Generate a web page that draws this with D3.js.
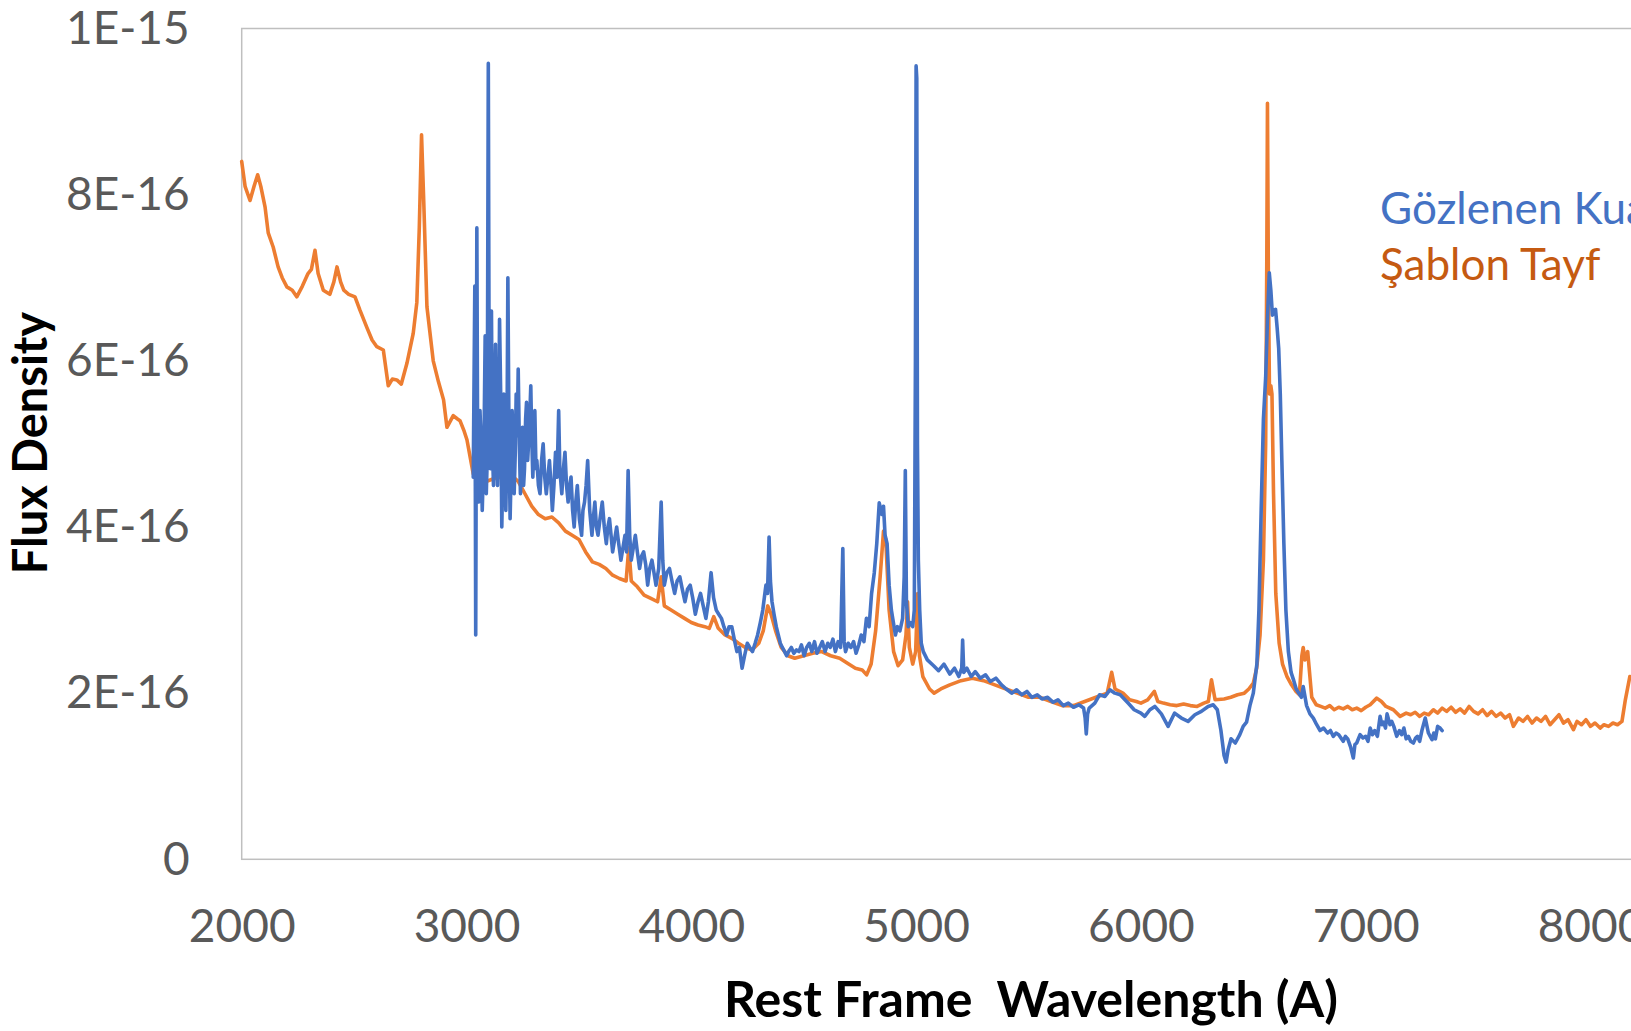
<!DOCTYPE html>
<html>
<head>
<meta charset="utf-8">
<script src="https://cdn.jsdelivr.net/npm/d3@7"></script>
<style>
  html, body { margin: 0; padding: 0; background: #fff; overflow: hidden; }
  svg { display: block; }
  text { font-family: Lato, "Open Sans", sans-serif; }
</style>
</head>
<body>
<svg id="chart" width="1631" height="1031"></svg>
<script>
// ---------- DATA (flux in units of 1E-16) ----------
const templateWave = [
2000,2015,2037,2055,2071,2085,2104,2118,2140,2162,
2180,2201,2225,2245,2270,2295,2310,2326,2340,2363,
2392,2410,2424,2440,2454,2476,2504,2526,2557,2580,
2601,2630,2652,2670,2690,2710,2735,2763,2779,2790,
2800,2810,2824,2852,2875,2898,2913,2941,2960,2971,
2990,3002,3030,3060,3090,3120,3150,3180,3200,3230,
3260,3290,3320,3350,3380,3410,3440,3470,3500,3530,
3560,3590,3620,3650,3680,3710,3722,3733,3760,3790,
3820,3850,3866,3880,3910,3940,3970,4000,4030,4060,
4080,4100,4120,4150,4180,4210,4240,4270,4300,4320,
4340,4355,4375,4400,4430,4460,4500,4540,4580,4620,
4660,4700,4730,4760,4780,4800,4820,4840,4855,4865,
4880,4900,4920,4940,4955,4962,4970,4985,4998,5007,
5015,5030,5060,5080,5110,5150,5200,5250,5300,5350,
5400,5450,5500,5550,5600,5650,5700,5750,5800,5850,
5870,5885,5920,5950,5980,6000,6030,6060,6075,6100,
6130,6160,6190,6220,6250,6280,6300,6314,6330,6370,
6400,6430,6460,6480,6500,6515,6530,6545,6555,6560,
6563,6567,6572,6578,6583,6590,6600,6615,6630,6650,
6670,6690,6705,6716,6722,6730,6742,6760,6780,6800,
6820,6840,6860,6880,6900,6920,6940,6960,6980,7000,
7020,7049,7070,7090,7123,7153,7180,7200,7220,7240,
7260,7280,7301,7320,7340,7360,7380,7400,7420,7440,
7460,7480,7500,7520,7540,7560,7580,7600,7620,7640,
7657,7680,7700,7720,7740,7760,7780,7800,7820,7840,
7860,7880,7900,7924,7940,7960,7980,8000,8020,8043,
8060,8080,8100,8120,8140,8155,8175];
const templateFlux = [
8.40,8.10,7.93,8.10,8.24,8.10,7.85,7.54,7.37,7.13,
7.00,6.89,6.85,6.77,6.90,7.05,7.10,7.33,7.05,6.85,
6.80,6.95,7.13,6.95,6.85,6.80,6.77,6.61,6.40,6.25,
6.17,6.13,5.70,5.78,5.77,5.72,5.97,6.33,6.70,7.60,
8.72,7.90,6.65,6.00,5.75,5.53,5.20,5.34,5.30,5.28,
5.15,5.05,4.64,4.52,4.55,4.58,4.60,4.70,4.62,4.55,
4.40,4.25,4.15,4.10,4.12,4.05,3.95,3.90,3.85,3.70,
3.58,3.55,3.50,3.42,3.38,3.35,3.75,3.35,3.28,3.18,
3.14,3.10,3.40,3.05,3.00,2.95,2.90,2.85,2.82,2.80,
2.78,2.92,2.78,2.70,2.66,2.60,2.55,2.52,2.60,2.75,
3.05,2.95,2.75,2.55,2.45,2.42,2.45,2.48,2.50,2.45,
2.42,2.35,2.30,2.28,2.22,2.35,2.75,3.40,3.95,3.85,
3.00,2.50,2.33,2.40,2.70,3.10,2.55,2.35,2.50,3.20,
2.45,2.20,2.05,2.00,2.05,2.10,2.15,2.18,2.15,2.10,
2.05,2.00,1.95,1.95,1.90,1.85,1.85,1.90,1.95,2.00,
2.25,2.05,2.00,1.92,1.90,1.88,1.92,2.02,1.90,1.88,
1.86,1.85,1.87,1.85,1.84,1.88,1.90,2.16,1.92,1.93,
1.95,1.98,2.00,2.05,2.12,2.30,2.70,3.60,5.00,7.20,
9.10,7.00,5.60,5.70,5.60,4.40,3.20,2.60,2.35,2.20,
2.10,2.02,1.98,2.45,2.55,2.40,2.50,1.95,1.86,1.84,
1.82,1.85,1.80,1.83,1.81,1.84,1.80,1.82,1.79,1.83,
1.86,1.94,1.90,1.84,1.80,1.72,1.76,1.74,1.77,1.72,
1.76,1.74,1.80,1.76,1.82,1.78,1.83,1.77,1.81,1.76,
1.84,1.78,1.75,1.80,1.73,1.78,1.72,1.76,1.70,1.74,
1.60,1.70,1.66,1.72,1.64,1.70,1.66,1.72,1.62,1.68,
1.74,1.64,1.68,1.56,1.66,1.62,1.68,1.60,1.64,1.58,
1.62,1.60,1.64,1.62,1.66,1.92,2.20];

const observedWave = [
3030,3037,3041,3046,3050,3055,3060,3065,3070,3074,
3079,3083,3088,3092,3097,3101,3106,3111,3115,3120,
3125,3129,3134,3138,3143,3147,3152,3157,3161,3166,
3171,3175,3180,3184,3189,3194,3198,3203,3208,3212,
3217,3221,3226,3230,3235,3240,3244,3249,3254,3258,
3263,3267,3272,3276,3281,3286,3290,3295,3300,3304,
3309,3313,3320,3327,3334,3341,3348,3355,3362,3369,
3376,3382,3389,3396,3403,3410,3415,3424,3431,3438,
3445,3452,3459,3465,3472,3479,3486,3493,3502,3512,
3518,3525,3532,3539,3548,3558,3564,3571,3578,3585,
3594,3604,3613,3622,3629,3636,3643,3650,3659,3668,
3677,3687,3696,3705,3712,3719,3726,3733,3742,3751,
3760,3770,3779,3788,3797,3806,3815,3825,3834,3843,
3855,3866,3873,3880,3891,3903,3914,3926,3937,3949,
3960,3972,3983,3995,4006,4018,4030,4041,4053,4065,
4076,4088,4099,4111,4122,4134,4145,4157,4168,4180,
4191,4203,4214,4226,4237,4249,4260,4272,4284,4295,
4307,4318,4325,4332,4339,4346,4352,4359,4368,4378,
4387,4396,4405,4415,4424,4433,4445,4456,4468,4479,
4490,4502,4513,4525,4536,4548,4559,4571,4583,4595,
4607,4618,4630,4641,4653,4664,4674,4680,4686,4698,
4710,4722,4733,4745,4756,4768,4779,4791,4802,4814,
4825,4836,4848,4855,4862,4871,4880,4890,4899,4908,
4917,4928,4940,4947,4952,4957,4965,4975,4985,4992,
4997,5000,5003,5006,5010,5016,5023,5032,5050,5078,
5100,5124,5150,5171,5190,5203,5207,5212,5226,5245,
5263,5285,5309,5330,5355,5380,5401,5425,5447,5470,
5493,5515,5539,5560,5585,5610,5631,5655,5677,5700,
5724,5745,5752,5757,5763,5770,5795,5816,5840,5862,
5884,5908,5943,5970,6000,6017,6040,6062,6091,6121,
6150,6180,6210,6240,6269,6299,6322,6340,6356,6370,
6379,6388,6401,6420,6440,6455,6470,6485,6500,6516,
6525,6535,6545,6555,6563,6571,6578,6585,6592,6599,
6606,6613,6620,6627,6636,6645,6656,6668,6680,6691,
6702,6714,6722,6737,6752,6767,6782,6797,6813,6830,
6843,6856,6868,6880,6890,6900,6910,6920,6933,6945,
6952,6960,6975,6988,7000,7010,7020,7030,7040,7052,
7064,7072,7080,7088,7095,7108,7116,7125,7138,7150,
7160,7170,7180,7190,7200,7212,7222,7230,7240,7250,
7265,7279,7287,7295,7303,7310,7320,7331,7340];
const observedFlux = [
4.60,6.90,2.70,7.60,4.60,4.30,5.40,5.00,4.20,4.60,
5.30,6.30,4.40,4.80,9.58,5.50,4.70,6.60,5.00,4.50,
5.60,6.20,4.80,4.50,5.10,6.50,5.60,4.00,4.60,5.60,
4.90,4.20,5.00,7.00,5.10,4.10,4.60,5.40,5.00,4.40,
4.90,5.60,5.10,5.90,5.00,4.40,4.70,5.20,4.50,4.70,
5.30,5.50,4.80,5.00,5.30,5.70,5.10,4.60,5.00,5.40,
4.70,4.80,4.50,4.40,4.80,5.00,4.60,4.40,4.60,4.80,
4.50,4.20,4.50,4.90,4.60,5.40,4.70,4.40,4.70,4.90,
4.50,4.30,4.50,4.60,4.20,4.00,4.30,4.50,4.10,3.90,
4.20,4.30,4.50,4.80,4.20,3.90,4.10,4.30,4.00,3.90,
4.10,4.30,4.00,3.80,4.00,4.10,3.90,3.70,3.85,4.00,
3.80,3.60,3.75,3.90,3.70,4.68,3.90,3.60,3.75,3.90,
3.70,3.50,3.65,3.70,3.55,3.30,3.50,3.60,3.45,3.30,
3.50,4.30,3.60,3.30,3.45,3.50,3.35,3.20,3.35,3.40,
3.25,3.10,3.25,3.30,3.15,2.95,3.10,3.20,3.05,2.90,
3.10,3.45,3.15,3.00,2.95,2.90,2.80,2.70,2.80,2.80,
2.65,2.50,2.55,2.30,2.45,2.60,2.55,2.50,2.60,2.70,
2.85,3.00,3.15,3.30,3.20,3.88,3.35,3.10,2.95,2.80,
2.70,2.60,2.55,2.50,2.45,2.50,2.55,2.48,2.52,2.50,
2.58,2.45,2.55,2.60,2.50,2.62,2.48,2.55,2.62,2.50,
2.60,2.55,2.65,2.50,2.62,2.55,3.74,2.62,2.50,2.60,
2.55,2.62,2.48,2.58,2.70,2.62,2.90,2.80,3.20,3.45,
3.80,4.29,4.15,4.25,3.90,3.80,3.30,3.00,2.85,2.70,
2.80,2.75,2.90,3.40,4.68,3.10,2.80,2.85,2.80,3.00,
6.00,9.55,9.40,5.00,3.60,3.00,2.60,2.50,2.40,2.33,
2.27,2.35,2.23,2.30,2.20,2.30,2.64,2.25,2.30,2.20,
2.26,2.18,2.22,2.14,2.18,2.10,2.05,2.00,2.04,1.98,
2.02,1.95,1.98,1.93,1.95,1.89,1.92,1.85,1.88,1.83,
1.86,1.82,1.70,1.51,1.75,1.82,1.88,1.98,1.96,2.04,
2.00,1.98,1.88,1.80,1.76,1.72,1.80,1.84,1.75,1.60,
1.76,1.70,1.66,1.74,1.78,1.84,1.86,1.80,1.55,1.25,
1.17,1.32,1.45,1.40,1.50,1.60,1.65,1.85,2.00,2.35,
3.00,4.20,5.30,5.80,6.50,7.06,6.85,6.55,6.60,6.62,
6.40,6.15,5.60,4.80,3.80,3.00,2.50,2.25,2.15,2.05,
2.00,1.95,2.08,1.85,1.75,1.70,1.62,1.55,1.58,1.52,
1.55,1.48,1.52,1.50,1.46,1.42,1.48,1.45,1.35,1.22,
1.38,1.40,1.50,1.46,1.48,1.42,1.58,1.50,1.55,1.48,
1.72,1.62,1.65,1.58,1.75,1.62,1.66,1.60,1.48,1.55,
1.50,1.58,1.45,1.48,1.42,1.40,1.46,1.48,1.42,1.55,
1.70,1.52,1.48,1.44,1.52,1.45,1.60,1.58,1.55];

const xTicks = [2000,3000,4000,5000,6000,7000,8000];
const yTicks = [0,2,4,6,8,10];
const yTickLabels = ["0","2E-16","4E-16","6E-16","8E-16","1E-15"];
const seriesNames = ["Gözlenen Kuasar Tayfı","Şablon Tayf"];
const xTitle = "Rest Frame  Wavelength (A)";
const yTitle = "Flux Density";

// ---------- LAYOUT ----------
const svg = d3.select("#chart");
const plotLeft = 241.7, plotTop = 28.5, plotBottom = 859.3;
const x = d3.scaleLinear().domain([2000, 9000]).range([plotLeft, plotLeft + 7000 * 0.2248]);
const y = d3.scaleLinear().domain([0, 10]).range([plotBottom, plotTop]);

const gridColor = "#BFBFBF";
const tickColor = "#595959";
const blue = "#4472C4", orange = "#ED7D31", orangeText = "#C55A11";

// plot area border
svg.append("rect")
  .attr("x", x(2000)).attr("y", y(10))
  .attr("width", x(9000) - x(2000)).attr("height", y(0) - y(10))
  .attr("fill", "none").attr("stroke", gridColor).attr("stroke-width", 1.5);

// y axis labels
const yAxis = d3.axisLeft(y).tickValues(yTicks)
  .tickFormat((d, i) => yTickLabels[i]).tickSize(0).tickPadding(52);
const gy = svg.append("g").attr("transform", `translate(${plotLeft},0)`).call(yAxis);
gy.select(".domain").remove();
gy.selectAll("text").attr("fill", tickColor).style("font-size", "46px")
  .style("font-family", "Lato, 'Open Sans', sans-serif");

// x axis labels
const xAxis = d3.axisBottom(x).tickValues(xTicks).tickFormat(d3.format("d"))
  .tickSize(0).tickPadding(50);
const gx = svg.append("g").attr("transform", `translate(0,${plotBottom})`).call(xAxis);
gx.select(".domain").remove();
gx.selectAll("text").attr("fill", tickColor).style("font-size", "46px")
  .style("font-family", "Lato, 'Open Sans', sans-serif");

// lines
const line = d3.line().x(d => x(d[0])).y(d => y(d[1]));
const templateData = d3.zip(templateWave, templateFlux);
const observedData = d3.zip(observedWave, observedFlux);

svg.append("path").datum(templateData).attr("d", line)
  .attr("fill", "none").attr("stroke", orange).attr("stroke-width", 3.6)
  .attr("stroke-linejoin", "round").attr("stroke-linecap", "round");
svg.append("path").datum(observedData).attr("d", line)
  .attr("fill", "none").attr("stroke", blue).attr("stroke-width", 3.6)
  .attr("stroke-linejoin", "round").attr("stroke-linecap", "round");

// legend text
svg.append("text").attr("x", 1380).attr("y", 224).text(seriesNames[0])
  .attr("fill", blue).style("font-size", "44px");
svg.append("text").attr("x", 1380).attr("y", 280).text(seriesNames[1])
  .attr("fill", orangeText).style("font-size", "44px");

// axis titles
svg.append("text").attr("x", 1031).attr("y", 1017).attr("text-anchor", "middle")
  .attr("xml:space", "preserve").style("white-space", "pre")
  .style("font-size", "50px").style("font-weight", "bold").attr("fill", "#000")
  .text(xTitle);
svg.append("text").attr("transform", "translate(47,443) rotate(-90)")
  .attr("text-anchor", "middle").style("font-size", "47px").style("font-weight", "bold")
  .attr("fill", "#000").text(yTitle);
</script>
</body>
</html>
